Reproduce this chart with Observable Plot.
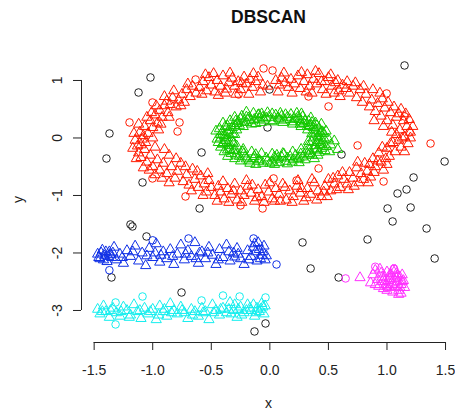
<!DOCTYPE html>
<html>
<head>
<meta charset="utf-8">
<script src="https://cdn.jsdelivr.net/npm/d3@7"></script>
<script src="https://cdn.jsdelivr.net/npm/@observablehq/plot@0.6"></script>
<style>
html,body{margin:0;padding:0;background:#fff;}
</style>
</head>
<body>
<div id="chart"></div>
<script>
const xTicks = [-1.5, -1.0, -0.5, 0.0, 0.5, 1.0, 1.5];
const yTicks = [-3, -2, -1, 0, 1];

const noise = [[1.150,1.261],[-1.019,1.052],[-1.121,0.791],[-0.003,0.843],[-0.020,0.183],[-1.369,0.078],[-1.395,-0.357],[-0.583,-0.252],[0.612,-0.287],[-1.087,-0.774],[1.492,-0.409],[1.227,-0.687],[1.167,-0.896],[1.090,-0.965],[1.005,-1.226],[1.202,-1.209],[-0.600,-1.226],[1.048,-1.452],[-1.190,-1.504],[-1.173,-1.539],[-1.053,-1.713],[0.279,-1.817],[0.834,-1.765],[1.338,-1.574],[1.407,-2.096],[0.348,-2.270],[-1.352,-2.426],[0.587,-2.426],[-0.754,-2.687],[-0.037,-3.226],[-0.131,-3.365]];

const redBorder = [[-0.054,1.209],[0.023,1.174],[-0.634,1.017],[-1.002,0.617],[-1.198,0.270],[0.501,0.548],[0.997,0.774],[1.150,0.374],[1.193,0.096],[-0.267,0.757],[0.330,0.722],[1.372,-0.096],[0.416,-0.530],[0.971,-0.757],[-0.250,-1.174],[-0.062,-1.226],[-0.720,-1.017],[-1.002,-0.704],[0.032,-0.704],[-0.788,0.113],[0.749,-0.130],[0.228,-0.739],[-0.771,0.270]];

const redSeeds = [
[-0.6,0.88],[-0.57,0.98],[-0.54,0.82],[-0.52,1.05],[-0.5,0.92],[-0.47,0.8],[-0.45,1.0],[-0.42,0.9],[-0.4,1.08],[-0.37,0.85],[-0.35,0.96],[-0.32,1.04],[-0.3,0.9],[-0.27,0.98],[-0.25,0.84],[-0.22,1.06],[-0.2,0.94],[-0.17,1.02],[-0.15,0.88],[-0.12,0.98],[-0.1,1.06],[-0.06,0.92],[-0.02,0.9],[0.05,1.0],[0.08,0.92],[0.1,1.04],[0.13,0.96],[0.16,0.88],[0.18,1.02],[0.21,0.94],[0.24,1.08],[0.26,0.86],[0.29,0.98],[0.32,1.1],[0.34,0.9],[0.37,1.02],[0.4,0.94],[0.42,1.12],[0.45,0.84],[0.47,0.98],[0.5,1.05],[0.53,0.9],[0.56,0.96],[0.59,0.82],[0.62,0.92],
[-0.63,0.78],[-0.66,0.9],[-0.68,0.72],[-0.71,0.84],[-0.73,0.62],[-0.75,0.76],[-0.78,0.66],[-0.8,0.54],[-0.83,0.7],[-0.85,0.58],[-0.87,0.44],[-0.9,0.56],[-0.92,0.36],[-0.94,0.48],[-0.96,0.26],[-0.98,0.4],[-1.0,0.18],[-1.02,0.3],[-1.04,0.08],[-1.07,0.2],[-1.09,-0.02],[-1.11,0.1],[-1.13,-0.14],[-1.06,-0.08],[-1.15,-0.04],[-0.88,0.64],[-0.95,0.14],[-1.0,0.0],
[-1.12,-0.26],[-1.1,-0.34],[-1.07,-0.2],[-1.05,-0.42],[-1.02,-0.3],[-1.0,-0.5],[-0.98,-0.16],[-0.96,-0.38],[-0.94,-0.56],[-0.91,-0.44],[-0.88,-0.62],[-0.86,-0.3],[-0.84,-0.5],[-0.81,-0.7],[-0.79,-0.58],[-0.76,-0.44],[-0.74,-0.76],[-0.71,-0.64],[-0.69,-0.82],[-0.66,-0.54],[-0.64,-0.72],[-0.61,-0.86],[-0.59,-0.66],[-0.56,-0.8],[-0.54,-0.94],[-0.52,-0.74],[-0.5,-0.86],[-1.08,-0.52],[-0.92,-0.7],
[-0.47,-1.0],[-0.44,-0.84],[-0.42,-0.94],[-0.39,-1.06],[-0.36,-0.88],[-0.33,-0.98],[-0.3,-0.8],[-0.28,-1.08],[-0.25,-0.92],[-0.22,-1.0],[-0.19,-0.84],[-0.16,-0.96],[-0.13,-1.1],[-0.1,-0.9],[-0.07,-1.02],[-0.04,-0.82],[-0.01,-0.94],[0.02,-1.06],[0.05,-0.88],[0.08,-0.98],[0.11,-0.8],[0.14,-1.08],[0.17,-0.92],[0.2,-1.02],[0.23,-0.84],[0.26,-0.96],[0.29,-1.1],[0.32,-0.88],[0.35,-0.98],[0.38,-0.78],[0.41,-0.92],[0.44,-1.02],[0.47,-0.84],[0.5,-0.72],[0.52,-0.92],
[0.55,-0.8],[0.58,-0.66],[0.6,-0.86],[0.63,-0.72],[0.66,-0.8],[0.68,-0.6],[0.71,-0.7],[0.74,-0.52],[0.76,-0.78],[0.78,-0.62],[0.81,-0.44],[0.83,-0.58],[0.86,-0.68],[0.88,-0.36],[0.9,-0.5],[0.93,-0.26],[0.95,-0.42],[0.97,-0.56],[1.0,-0.18],[1.02,-0.32],[1.05,-0.08],[1.07,-0.24],[1.1,-0.04],[1.12,-0.16],[1.15,0.02],[1.18,-0.1],[0.84,-0.78],[1.0,-0.46],
[1.2,0.1],[1.17,0.2],[1.14,0.3],[1.11,0.14],[1.08,0.36],[1.05,0.22],[1.03,0.44],[1.0,0.3],[0.98,0.52],[0.95,0.38],[0.92,0.6],[0.9,0.46],[0.87,0.66],[0.85,0.54],[0.82,0.76],[0.79,0.62],[0.77,0.84],[0.74,0.7],[0.71,0.9],[0.68,0.78],[0.65,0.86],[1.1,0.42],[0.96,0.68],[1.13,0.0],
[-0.58,0.76],[-0.55,1.1],[-0.48,1.12],[-0.44,0.74],[-0.38,0.78],[-0.34,1.13],[-0.29,0.76],[-0.24,0.95],[-0.18,0.76],[-0.14,1.12],[-0.08,0.8],[0.07,0.8],[0.12,1.13],[0.19,0.78],[0.27,1.14],[0.31,0.8],[0.36,0.78],[0.39,1.16],[0.44,0.98],[0.48,0.76],[0.52,1.1],[0.55,0.78],[0.58,1.0],[0.6,0.72],
[-0.7,0.94],[-0.76,0.56],[-0.82,0.82],[-0.86,0.36],[-0.9,0.72],[-0.93,0.24],[-0.97,0.56],[-1.01,0.44],[-1.05,0.36],[-1.08,0.04],[-1.12,0.24],[-1.16,0.08],[-1.17,-0.18],[-1.14,-0.36],[-1.1,-0.12],[-1.03,-0.56],[-0.98,-0.64],[-0.9,-0.2],[-0.86,-0.78],[-0.8,-0.36],[-0.72,-0.5],[-0.67,-0.92],[-0.62,-0.58],[-0.57,-1.0],[-0.53,-0.62],
[-0.45,-1.1],[-0.4,-0.76],[-0.35,-1.12],[-0.31,-0.92],[-0.24,-1.12],[-0.2,-0.74],[-0.15,-0.82],[-0.11,-1.04],[-0.05,-1.12],[0.0,-0.78],[0.04,-1.1],[0.09,-1.1],[0.13,-0.86],[0.19,-1.12],[0.24,-0.74],[0.27,-0.88],[0.31,-1.04],[0.36,-0.72],[0.4,-1.08],[0.46,-0.94],[0.49,-1.02],[0.54,-0.7],
[0.57,-0.9],[0.62,-0.6],[0.67,-0.9],[0.72,-0.84],[0.75,-0.42],[0.8,-0.72],[0.85,-0.46],[0.89,-0.6],[0.92,-0.4],[0.96,-0.16],[0.99,-0.36],[1.03,-0.1],[1.08,0.06],[1.15,-0.24],[1.2,0.0],[1.22,0.2],[1.19,0.32],[1.16,0.42],[1.12,0.5],[1.06,0.54],[1.01,0.62],[0.94,0.78],[0.88,0.84],[0.8,0.9],[0.73,0.96],[0.66,0.98],[0.89,0.3],[0.97,0.2],[1.04,0.1]
];

const greenSeeds = [
[0.37,0],[0.358,0.073],[0.323,0.14],[0.267,0.198],[0.195,0.242],[0.111,0.27],[0.02,0.28],[-0.071,0.27],[-0.155,0.242],[-0.227,0.198],[-0.283,0.14],[-0.318,0.073],[-0.33,0],[-0.318,-0.073],[-0.283,-0.14],[-0.227,-0.198],[-0.155,-0.242],[-0.071,-0.27],[0.02,-0.28],[0.111,-0.27],[0.195,-0.242],[0.267,-0.198],[0.323,-0.14],[0.358,-0.073],
[0.416,0.046],[0.39,0.134],[0.337,0.213],[0.264,0.278],[0.173,0.323],[0.072,0.347],[-0.032,0.347],[-0.133,0.323],[-0.224,0.278],[-0.297,0.213],[-0.35,0.134],[-0.376,0.046],[-0.376,-0.046],[-0.35,-0.134],[-0.297,-0.213],[-0.224,-0.278],[-0.133,-0.323],[-0.032,-0.347],[0.072,-0.347],[0.173,-0.323],[0.264,-0.278],[0.337,-0.213],[0.39,-0.134],[0.416,-0.046],
[0.46,0],[0.445,0.109],[0.401,0.21],[0.331,0.297],[0.24,0.364],[0.134,0.406],[0.02,0.42],[-0.094,0.406],[-0.2,0.364],[-0.291,0.297],[-0.361,0.21],[-0.405,0.109],[-0.42,0],[-0.405,-0.109],[-0.361,-0.21],[-0.291,-0.297],[-0.2,-0.364],[-0.094,-0.406],[0.02,-0.42],[0.134,-0.406],[0.24,-0.364],[0.331,-0.297],[0.401,-0.21],[0.445,-0.109],
[0.3,0.3],[0.42,0.17],[-0.38,0.2],[-0.25,0.33],[0.1,0.38],[-0.1,0.4],[0.2,-0.38],[-0.18,-0.4],[0.45,-0.05],[-0.4,-0.1],[0.36,-0.3],[-0.33,-0.27],[0.05,-0.37],[0.12,0.31],[-0.05,0.31],[0.28,-0.33],[-0.28,0.25],[0.39,0.26],[-0.42,0.06],[0.48,-0.15],[0.52,-0.12],[0.58,-0.2],[0.55,-0.05],[-0.46,0.12],[0.0,-0.44],[0.15,-0.45],[-0.12,-0.46],[0.23,0.43],[-0.2,0.45],[0.35,0.35],
[0.38,0.1],[0.34,0.22],[0.25,0.32],[0.15,0.36],[0.05,0.4],[-0.06,0.36],[-0.16,0.3],[-0.26,0.22],[-0.36,0.1],[-0.38,-0.04],[-0.34,-0.2],[-0.26,-0.32],[-0.14,-0.36],[-0.02,-0.4],[0.1,-0.33],[0.22,-0.3],[0.31,-0.24],[0.4,-0.08],[0.43,0.08],[0.36,0.27],[0.28,0.37],[0.18,0.41],[-0.02,0.44],[-0.14,0.43],[-0.24,0.38],[-0.34,0.3],[-0.43,0.16],[-0.45,-0.02],[-0.42,-0.16],[-0.36,-0.32],[-0.25,-0.4],[-0.06,-0.44],[0.08,-0.43],[0.19,-0.42],[0.3,-0.38],[0.41,-0.3],[0.47,-0.22],[0.5,-0.02],[0.48,0.12],[0.44,0.24],[0.32,0.2],[-0.3,0.06],[-0.31,-0.1],[0.33,-0.06],[0.2,0.28],[-0.2,0.27],[-0.12,-0.29],[0.12,-0.28],[0.03,0.3],[0.06,-0.3],
[0.41,0.02],[0.43,-0.12],[0.37,0.18],[0.29,0.25],[0.21,0.34],[0.08,0.33],[-0.01,0.36],[-0.09,0.33],[-0.18,0.35],[-0.27,0.29],[-0.32,0.18],[-0.39,0.04],[-0.35,-0.08],[-0.31,-0.22],[-0.21,-0.33],[-0.09,-0.38],[0.04,-0.33],[0.15,-0.35],[0.25,-0.35],[0.34,-0.27],[0.38,-0.19],[0.44,-0.18],[0.51,-0.24],[0.46,0.08],[0.27,0.42],[0.09,0.43],[-0.07,0.42],[-0.3,0.36],[-0.4,0.26],[-0.44,-0.08],[-0.39,-0.24],[-0.3,-0.36],[-0.17,-0.44],[0.04,-0.46],[0.25,-0.43],[0.38,-0.36],[0.42,-0.25],[-0.23,-0.24],[0.26,0.24],[-0.12,0.25]
];

const blueSeeds = [[-1.47,-2.02],[-1.45,-2.1],[-1.43,-1.95],[-1.41,-2.05],[-1.39,-2.15],[-1.37,-1.98],[-1.35,-2.08],[-1.33,-1.9],[-1.31,-2.12],[-1.28,-2.02],[-1.25,-2.18],[-1.22,-1.96],[-1.19,-2.06],[-1.15,-1.88],[-1.12,-2.14],[-1.09,-2.0],[-1.06,-2.22],[-1.03,-1.92],[-1.0,-2.08],[-0.97,-1.84],[-0.94,-2.16],[-0.91,-1.98],[-0.88,-2.1],[-0.85,-1.94],[-0.82,-2.2],[-0.79,-2.02],[-0.76,-1.86],[-0.73,-2.12],[-0.7,-1.96],[-0.67,-2.06],[-0.64,-1.82],[-0.61,-2.18],[-0.58,-1.98],[-0.55,-2.1],[-0.52,-1.9],[-0.49,-2.04],[-0.46,-2.2],[-0.43,-1.94],[-0.4,-2.08],[-0.37,-1.86],[-0.34,-2.14],[-0.31,-2.0],[-0.28,-1.92],[-0.25,-2.1],[-0.22,-2.2],[-0.19,-1.96],[-0.16,-2.06],[-0.13,-1.84],[-0.11,-2.14],[-0.09,-1.94],[-0.07,-2.04],[-0.05,-1.88],[-0.04,-2.12],[-1.44,-2.0],[-1.36,-2.03],[-0.98,-2.0],[-0.6,-2.0],[-0.3,-2.07],[-0.1,-1.82],
[-1.46,-2.08],[-1.42,-2.12],[-1.4,-1.98],[-1.38,-2.06],[-1.34,-2.0],[-1.26,-2.08],[-1.17,-1.98],[-1.05,-2.05],[-0.93,-2.04],[-0.83,-2.06],[-0.72,-2.02],[-0.63,-2.1],[-0.53,-2.0],[-0.44,-2.12],[-0.35,-1.98],[-0.27,-2.02],[-0.18,-2.12],[-0.12,-1.98],[-0.08,-2.1],[-0.06,-1.98],[-0.14,-1.9],[-0.03,-2.05]];
const blueBorder = [[0.057,-2.2],[-1.0,-1.78],[-1.37,-2.3],[-0.694,-1.748],[-0.139,-1.748]];

const cyanSeeds = [[-1.47,-2.98],[-1.45,-3.06],[-1.42,-2.92],[-1.4,-3.02],[-1.37,-3.12],[-1.34,-2.96],[-1.31,-3.04],[-1.28,-3.1],[-1.25,-2.94],[-1.22,-3.0],[-1.19,-3.08],[-1.16,-2.9],[-1.13,-3.02],[-1.1,-3.14],[-1.07,-2.96],[-1.04,-3.06],[-1.0,-2.98],[-0.97,-3.16],[-0.94,-2.92],[-0.91,-3.02],[-0.88,-3.1],[-0.85,-2.88],[-0.82,-3.0],[-0.79,-3.06],[-0.76,-2.94],[-0.73,-3.04],[-0.7,-3.14],[-0.67,-2.98],[-0.64,-3.02],[-0.61,-3.1],[-0.58,-2.96],[-0.55,-3.02],[-0.52,-3.16],[-0.49,-2.9],[-0.46,-3.0],[-0.43,-3.08],[-0.4,-2.96],[-0.37,-3.04],[-0.34,-2.86],[-0.31,-3.0],[-0.28,-3.12],[-0.25,-2.94],[-0.22,-3.04],[-0.19,-2.9],[-0.16,-3.0],[-0.13,-3.1],[-0.11,-2.96],[-0.09,-3.02],[-0.07,-2.88],[-0.05,-3.06],[-0.06,-2.94],[-0.35,-2.98],[-0.2,-3.0],[-0.9,-2.98],
[-1.43,-3.02],[-1.36,-3.0],[-1.27,-3.02],[-1.2,-3.12],[-1.11,-3.0],[-1.02,-3.02],[-0.95,-3.08],[-0.84,-3.04],[-0.75,-3.0],[-0.66,-3.08],[-0.57,-3.04],[-0.48,-3.04],[-0.42,-2.98],[-0.33,-3.06],[-0.27,-2.98],[-0.24,-3.08],[-0.17,-2.96],[-0.12,-3.04],[-0.08,-2.98],[-0.04,-2.92],[-0.14,-2.9],[-0.3,-2.9]];
const cyanBorder = [[-1.087,-2.757],[-1.317,-3.243],[-0.583,-2.826],[-0.258,-2.757],[-0.037,-2.774],[-1.317,-2.861],[-0.4,-2.74]];

const magentaSeeds = [[0.77,-2.43],[0.86,-2.52],[0.88,-2.38],[0.9,-2.3],[0.92,-2.46],[0.93,-2.58],[0.95,-2.35],[0.96,-2.5],[0.97,-2.62],[0.98,-2.42],[0.99,-2.55],[1.0,-2.33],[1.01,-2.48],[1.02,-2.6],[1.03,-2.4],[1.04,-2.52],[1.05,-2.3],[1.06,-2.45],[1.07,-2.58],[1.08,-2.36],[1.09,-2.5],[1.1,-2.65],[1.11,-2.42],[1.12,-2.55],[1.13,-2.38],[1.14,-2.48],[1.15,-2.6],[1.1,-2.72],[1.12,-2.7],[0.94,-2.28],[1.07,-2.3],[0.9,-2.55],[1.0,-2.65],[1.05,-2.68],
[0.98,-2.5],[1.02,-2.45],[1.05,-2.55],[1.08,-2.44],[1.11,-2.6],[0.96,-2.42],[1.03,-2.36],[1.13,-2.5],[1.0,-2.58],[1.09,-2.4]];
const magentaBorder = [[0.647,-2.443],[0.9,-2.24],[1.06,-2.27]];

const clusterNames = ["noise", "1", "2", "3", "4", "5"];
const clusterColors = ["#222222", "#ff1a00", "#14c800", "#1030e6", "#14eeee", "#ff30ff"];

const groups = [
  [noise, "noise", "border"],
  [redBorder, "1", "border"], [redSeeds, "1", "seed"],
  [greenSeeds, "2", "seed"],
  [blueBorder, "3", "border"], [blueSeeds, "3", "seed"],
  [cyanBorder, "4", "border"], [cyanSeeds, "4", "seed"],
  [magentaBorder, "5", "border"], [magentaSeeds, "5", "seed"]
];
const rows = groups.flatMap(([pts, cluster, type]) => pts.map(([x, y]) => ({x, y, cluster, type})));

const xDomain = [-1.608, 1.585];
const yDomain = [-3.557, 1.417];
const font = "'Liberation Sans', Arial, Helvetica, sans-serif";

const chart = Plot.plot({
  width: 455,
  height: 412,
  marginLeft: 81,
  marginRight: 0,
  marginTop: 56,
  marginBottom: 70,
  style: {fontFamily: font, fontSize: "14px", background: "#fff", color: "#222"},
  x: {domain: xDomain},
  y: {domain: yDomain},
  color: {domain: clusterNames, range: clusterColors},
  symbol: {domain: ["seed", "border"], range: ["triangle", "circle"]},
  marks: [
    Plot.axisX({ticks: xTicks, tickSize: 8, tickFormat: () => "", label: null}),
    Plot.ruleY([yDomain[0]], {x1: xTicks[0], x2: xTicks[xTicks.length - 1], stroke: "#222"}),
    Plot.text(xTicks, {x: d => d, text: d => d.toFixed(1), frameAnchor: "bottom", dy: 28, lineAnchor: "middle", textAnchor: "middle", fontSize: 14, fill: "#222"}),
    Plot.axisY({ticks: yTicks, tickSize: 8, tickFormat: () => "", label: null}),
    Plot.ruleX([xDomain[0]], {y1: yTicks[0], y2: yTicks[yTicks.length - 1], stroke: "#222"}),
    Plot.text(yTicks, {y: d => d, text: d => String(d), frameAnchor: "left", dx: -24, rotate: -90, lineAnchor: "middle", textAnchor: "middle", fontSize: 14, fill: "#222"}),
    Plot.dot(rows, {x: "x", y: "y", stroke: "cluster", symbol: "type", r: 3.8, strokeWidth: 1, fill: "none"}),
    Plot.text(["DBSCAN"], {frameAnchor: "top", dy: -39, lineAnchor: "middle", textAnchor: "middle", fontWeight: "bold", fontSize: 17.5, fill: "#111"}),
    Plot.text(["x"], {frameAnchor: "bottom", dy: 61, lineAnchor: "middle", textAnchor: "middle", fontSize: 14, fill: "#222"}),
    Plot.text(["y"], {frameAnchor: "left", dx: -63, rotate: -90, lineAnchor: "middle", textAnchor: "middle", fontSize: 14, fill: "#222"})
  ]
});
document.getElementById("chart").appendChild(chart);
</script>
</body>
</html>
